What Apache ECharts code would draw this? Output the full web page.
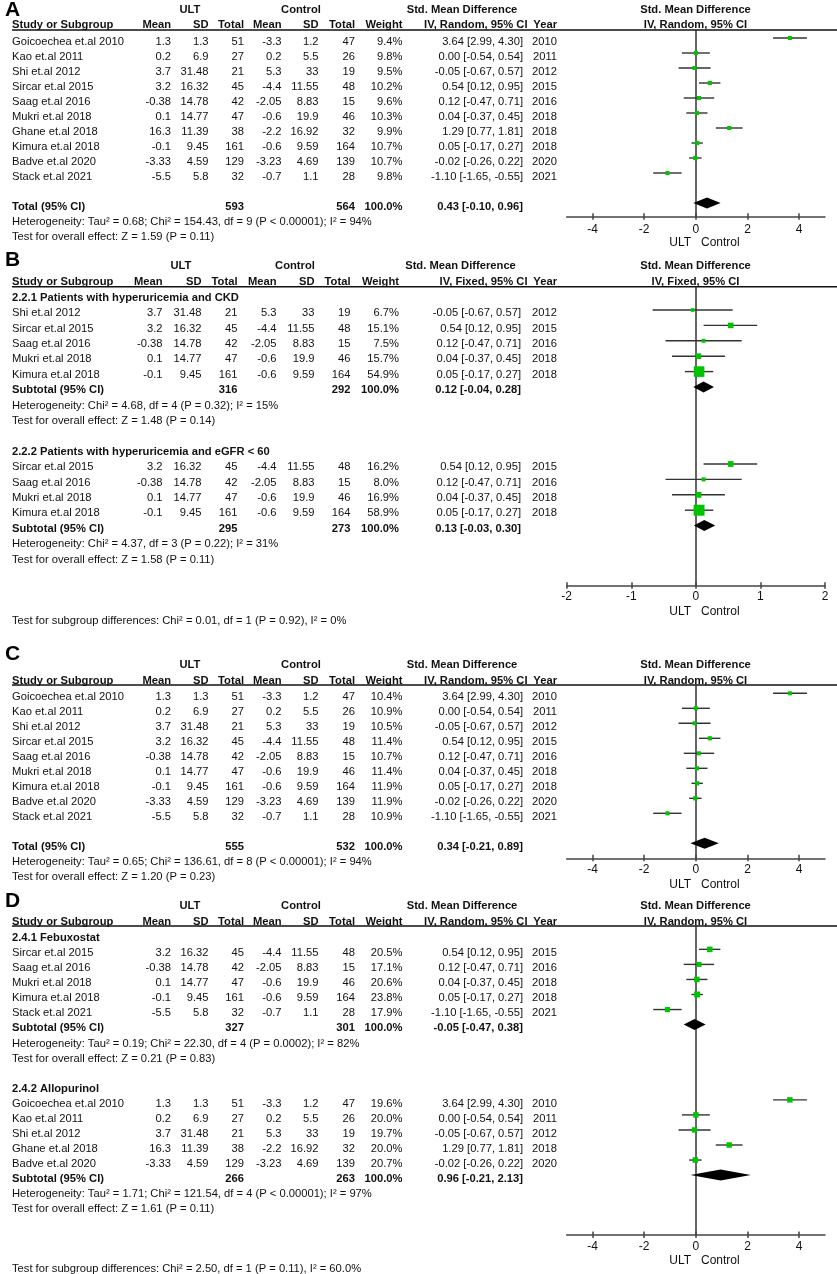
<!DOCTYPE html>
<html><head><meta charset="utf-8">
<script src="https://cdn.jsdelivr.net/npm/echarts@6/dist/echarts.min.js"></script>
<style>html,body{margin:0;padding:0;background:#fff}#c{width:837px;height:1274px}</style>
</head><body><div id="c"></div><script>
// ---------------- DATA ----------------
const studyNames = ["Goicoechea et.al 2010","Kao et.al 2011","Shi et.al 2012","Sircar et.al 2015","Saag et.al 2016","Mukri et.al 2018","Ghane et.al 2018","Kimura et.al 2018","Badve et.al 2020","Stack et.al 2021"];
const ultMean  = [1.3, 0.2, 3.7, 3.2, -0.38, 0.1, 16.3, -0.1, -3.33, -5.5];
const ultSD    = [1.3, 6.9, 31.48, 16.32, 14.78, 14.77, 11.39, 9.45, 4.59, 5.8];
const ultTotal = [51, 27, 21, 45, 42, 47, 38, 161, 129, 32];
const ctlMean  = [-3.3, 0.2, 5.3, -4.4, -2.05, -0.6, -2.2, -0.6, -3.23, -0.7];
const ctlSD    = [1.2, 5.5, 33, 11.55, 8.83, 19.9, 16.92, 9.59, 4.69, 1.1];
const ctlTotal = [47, 26, 19, 48, 15, 46, 32, 164, 139, 28];
const smd      = [3.64, 0.00, -0.05, 0.54, 0.12, 0.04, 1.29, 0.05, -0.02, -1.10];
const ciLow    = [2.99, -0.54, -0.67, 0.12, -0.47, -0.37, 0.77, -0.17, -0.26, -1.65];
const ciHigh   = [4.30, 0.54, 0.57, 0.95, 0.71, 0.45, 1.81, 0.27, 0.22, -0.55];
const studyYear = [2010, 2011, 2012, 2015, 2016, 2018, 2018, 2018, 2020, 2021];

const A_ticks = [-4, -2, 0, 2, 4];
const B_ticks = [-2, -1, 0, 1, 2];
const C_ticks = [-4, -2, 0, 2, 4];
const D_ticks = [-4, -2, 0, 2, 4];

// pooled: [ULT total, Control total, weight, SMD, low, high]
const A_studies = [0,1,2,3,4,5,6,7,8,9];
const A_weights = [9.4, 9.8, 9.5, 10.2, 9.6, 10.3, 9.9, 10.7, 10.7, 9.8];
const A_pooled  = [593, 564, 100.0, 0.43, -0.10, 0.96];
const A_het  = "Heterogeneity: Tau\u00b2 = 0.68; Chi\u00b2 = 154.43, df = 9 (P < 0.00001); I\u00b2 = 94%";
const A_test = "Test for overall effect: Z = 1.59 (P = 0.11)";

const B1_heading = "2.2.1 Patients with hyperuricemia and CKD";
const B1_studies = [2,3,4,5,7];
const B1_weights = [6.7, 15.1, 7.5, 15.7, 54.9];
const B1_pooled  = [316, 292, 100.0, 0.12, -0.04, 0.28];
const B1_het  = "Heterogeneity: Chi\u00b2 = 4.68, df = 4 (P = 0.32); I\u00b2 = 15%";
const B1_test = "Test for overall effect: Z = 1.48 (P = 0.14)";
const B2_heading = "2.2.2 Patients with hyperuricemia and eGFR < 60";
const B2_studies = [3,4,5,7];
const B2_weights = [16.2, 8.0, 16.9, 58.9];
const B2_pooled  = [295, 273, 100.0, 0.13, -0.03, 0.30];
const B2_het  = "Heterogeneity: Chi\u00b2 = 4.37, df = 3 (P = 0.22); I\u00b2 = 31%";
const B2_test = "Test for overall effect: Z = 1.58 (P = 0.11)";
const B_subTest = "Test for subgroup differences: Chi\u00b2 = 0.01, df = 1 (P = 0.92), I\u00b2 = 0%";

const C_studies = [0,1,2,3,4,5,7,8,9];
const C_weights = [10.4, 10.9, 10.5, 11.4, 10.7, 11.4, 11.9, 11.9, 10.9];
const C_pooled  = [555, 532, 100.0, 0.34, -0.21, 0.89];
const C_het  = "Heterogeneity: Tau\u00b2 = 0.65; Chi\u00b2 = 136.61, df = 8 (P < 0.00001); I\u00b2 = 94%";
const C_test = "Test for overall effect: Z = 1.20 (P = 0.23)";

const D1_heading = "2.4.1 Febuxostat";
const D1_studies = [3,4,5,7,9];
const D1_weights = [20.5, 17.1, 20.6, 23.8, 17.9];
const D1_pooled  = [327, 301, 100.0, -0.05, -0.47, 0.38];
const D1_het  = "Heterogeneity: Tau\u00b2 = 0.19; Chi\u00b2 = 22.30, df = 4 (P = 0.0002); I\u00b2 = 82%";
const D1_test = "Test for overall effect: Z = 0.21 (P = 0.83)";
const D2_heading = "2.4.2 Allopurinol";
const D2_studies = [0,1,2,6,8];
const D2_weights = [19.6, 20.0, 19.7, 20.0, 20.7];
const D2_pooled  = [266, 263, 100.0, 0.96, -0.21, 2.13];
const D2_het  = "Heterogeneity: Tau\u00b2 = 1.71; Chi\u00b2 = 121.54, df = 4 (P < 0.00001); I\u00b2 = 97%";
const D2_test = "Test for overall effect: Z = 1.61 (P = 0.11)";
const D_subTest = "Test for subgroup differences: Chi\u00b2 = 2.50, df = 1 (P = 0.11), I\u00b2 = 60.0%";

// ---------------- LAYOUT / STYLE ----------------
const FAM = '"Liberation Sans", Arial, sans-serif';
const F = (b, s) => (b ? 'bold ' : '') + (s || 11.2) + 'px ' + FAM;
const TXT = '#111', GREEN = '#00c400', LINE = '#333';
const PLOT_L = 566.7, PLOT_R = 825, PLOT_C = 695.5;

const colsACD = {name:12, um:171, usd:208.5, ut:244, cm:281.5, csd:318.5, ct:355, w:402.5, ci:523, yr:557, ultC:190, ctlC:301, smdC:462, ciHead:527.5};
const colsB   = {name:12, um:162.5, usd:201.5, ut:237.5, cm:276.5, csd:314.5, ct:350.5, w:399, ci:521, yr:557, ultC:181, ctlC:295, smdC:460.5, ciHead:527.5};

const panels = [
  {letter:'A', letterY:10, head1Y:10, head2Y:25, lineY:30, axisY:216.7, row0:38, step:15, dy:3.6,
   xmin:-5, xmax:5, ticks:A_ticks, k:1.3, cols:colsACD, method:'IV, Random, 95% CI', lblMargin:7,
   groups:[{heading:null, firstRow:0, studies:A_studies, weights:A_weights, pooled:A_pooled, pooledLabel:'Total (95% CI)', pooledRow:11, het:A_het, test:A_test}]},
  {letter:'B', letterY:260, head1Y:266, head2Y:281.7, lineY:286.7, axisY:585.7, row0:294.6, step:15.4, dy:3.2,
   xmin:-2, xmax:2, ticks:B_ticks, k:1.43, cols:colsB, method:'IV, Fixed, 95% CI', lblMargin:5,
   groups:[{heading:B1_heading, headingRow:0, firstRow:1, studies:B1_studies, weights:B1_weights, pooled:B1_pooled, pooledLabel:'Subtotal (95% CI)', pooledRow:6, het:B1_het, test:B1_test},
           {heading:B2_heading, headingRow:10, firstRow:11, studies:B2_studies, weights:B2_weights, pooled:B2_pooled, pooledLabel:'Subtotal (95% CI)', pooledRow:15, het:B2_het, test:B2_test}],
   subTest:B_subTest, subTestRow:21},
  {letter:'C', letterY:654, head1Y:665, head2Y:680.7, lineY:685, axisY:858.3, row0:693.3, step:15, dy:3.4,
   xmin:-5, xmax:5, ticks:C_ticks, k:1.24, cols:colsACD, method:'IV, Random, 95% CI', lblMargin:5.5,
   groups:[{heading:null, firstRow:0, studies:C_studies, weights:C_weights, pooled:C_pooled, pooledLabel:'Total (95% CI)', pooledRow:10, het:C_het, test:C_test}]},
  {letter:'D', letterY:901, head1Y:906, head2Y:921.7, lineY:926, axisY:1235, row0:934.3, step:15.05, dy:3.8,
   xmin:-5, xmax:5, ticks:D_ticks, k:1.22, cols:colsACD, method:'IV, Random, 95% CI', lblMargin:5.5,
   groups:[{heading:D1_heading, headingRow:0, firstRow:1, studies:D1_studies, weights:D1_weights, pooled:D1_pooled, pooledLabel:'Subtotal (95% CI)', pooledRow:6, het:D1_het, test:D1_test},
           {heading:D2_heading, headingRow:10, firstRow:11, studies:D2_studies, weights:D2_weights, pooled:D2_pooled, pooledLabel:'Subtotal (95% CI)', pooledRow:16, het:D2_het, test:D2_test}],
   subTest:D_subTest, subTestRow:22}
];

const fmtCI = (e, l, h) => e.toFixed(2) + ' [' + l.toFixed(2) + ', ' + h.toFixed(2) + ']';

function tx(x, y, text, align, font, fill) {
  return {type:'text', silent:true, style:{x:x, y:y, text:String(text), font:font, fill:fill || TXT,
    align:align, textAlign:align, verticalAlign:'middle', textVerticalAlign:'middle'}};
}

const grids = [], xAxes = [], yAxes = [], series = [], graphics = [];

panels.forEach((p, i) => {
  const c = p.cols;
  grids.push({left:PLOT_L, right:837 - PLOT_R, top:p.lineY, height:p.axisY - p.lineY, containLabel:false, outerBoundsMode:'none'});
  xAxes.push({type:'value', gridIndex:i, min:p.xmin, max:p.xmax, position:'bottom',
    axisLine:{show:true, onZero:false, lineStyle:{color:'#444', width:1.5}},
    axisTick:{show:true, inside:true, length:3.5, customValues:p.ticks, lineStyle:{color:'#444', width:1.5}},
    axisLabel:{show:true, customValues:p.ticks, margin:p.lblMargin, color:TXT, fontSize:12, fontFamily:FAM},
    splitLine:{show:false}});
  xAxes.push({type:'value', gridIndex:i, min:p.xmin, max:p.xmax, position:'bottom',
    axisLine:{show:false, onZero:false},
    axisTick:{show:true, inside:false, length:3, customValues:p.ticks, lineStyle:{color:'#444', width:1.5}},
    axisLabel:{show:false}, splitLine:{show:false}});
  yAxes.push({type:'value', gridIndex:i, inverse:true,
    min:(p.lineY - p.row0) / p.step, max:(p.axisY - p.row0) / p.step,
    axisLine:{show:true, onZero:true, lineStyle:{color:LINE, width:1.5}},
    axisTick:{show:false}, axisLabel:{show:false}, splitLine:{show:false}});

  // build rows
  const forest = [], diamonds = [], texts = [];
  const add = (row, x, text, align, bold) => texts.push({row:row, x:x, text:String(text), align:align, bold:!!bold});
  p.groups.forEach(g => {
    if (g.heading) add(g.headingRow, c.name, g.heading, 'left', true);
    g.studies.forEach((si, j) => {
      const r = g.firstRow + j;
      forest.push([smd[si], r, ciLow[si], ciHigh[si], g.weights[j]]);
      add(r, c.name, studyNames[si], 'left');
      add(r, c.um, ultMean[si], 'right');
      add(r, c.usd, ultSD[si], 'right');
      add(r, c.ut, ultTotal[si], 'right');
      add(r, c.cm, ctlMean[si], 'right');
      add(r, c.csd, ctlSD[si], 'right');
      add(r, c.ct, ctlTotal[si], 'right');
      add(r, c.w, g.weights[j].toFixed(1) + '%', 'right');
      add(r, c.ci, fmtCI(smd[si], ciLow[si], ciHigh[si]), 'right');
      add(r, c.yr, studyYear[si], 'right');
    });
    const pr = g.pooledRow, P = g.pooled;
    diamonds.push([P[3], pr, P[4], P[5]]);
    add(pr, c.name, g.pooledLabel, 'left', true);
    add(pr, c.ut, P[0], 'right', true);
    add(pr, c.ct, P[1], 'right', true);
    add(pr, c.w, P[2].toFixed(1) + '%', 'right', true);
    add(pr, c.ci, fmtCI(P[3], P[4], P[5]), 'right', true);
    add(pr + 1, c.name, g.het, 'left');
    add(pr + 2, c.name, g.test, 'left');
  });
  if (p.subTest) add(p.subTestRow, c.name, p.subTest, 'left');

  series.push({type:'custom', xAxisIndex:2*i, yAxisIndex:i, clip:false, silent:true, z:5,
    data:forest,
    renderItem:(params, api) => {
      const r = api.value(1);
      const m = api.coord([api.value(0), r]);
      const a = api.coord([api.value(2), r]);
      const b = api.coord([api.value(3), r]);
      const s = p.k * Math.sqrt(api.value(4));
      return {type:'group', children:[
        {type:'line', shape:{x1:a[0], y1:a[1], x2:b[0], y2:b[1]}, style:{stroke:LINE, lineWidth:1.4}},
        {type:'rect', shape:{x:m[0] - s/2, y:m[1] - s/2, width:s, height:s}, style:{fill:GREEN}}
      ]};
    }});
  series.push({type:'custom', xAxisIndex:2*i, yAxisIndex:i, clip:false, silent:true, z:6,
    data:diamonds,
    renderItem:(params, api) => {
      const r = api.value(1);
      const m = api.coord([api.value(0), r]);
      const a = api.coord([api.value(2), r]);
      const b = api.coord([api.value(3), r]);
      const h = 5.5;
      return {type:'polygon', shape:{points:[[a[0], m[1]], [m[0], m[1] - h], [b[0], m[1]], [m[0], m[1] + h]]},
        style:{fill:'#000'}};
    }});
  series.push({type:'custom', xAxisIndex:2*i, yAxisIndex:i, clip:false, silent:true, z:7,
    data:texts.map(t => [0, t.row]),
    renderItem:(params, api) => {
      const t = texts[params.dataIndex];
      const y = api.coord([0, api.value(1)])[1] + p.dy;
      return tx(t.x, y, t.text, t.align, F(t.bold));
    }});

  // headers
  graphics.push(tx(5, p.letterY, p.letter, 'left', F(true, 21), '#000'));
  graphics.push(tx(c.ultC, p.head1Y, 'ULT', 'center', F(true)));
  graphics.push(tx(c.ctlC, p.head1Y, 'Control', 'center', F(true)));
  graphics.push(tx(c.smdC, p.head1Y, 'Std. Mean Difference', 'center', F(true)));
  graphics.push(tx(PLOT_C, p.head1Y, 'Std. Mean Difference', 'center', F(true)));
  graphics.push(tx(c.name, p.head2Y, 'Study or Subgroup', 'left', F(true)));
  graphics.push(tx(c.um, p.head2Y, 'Mean', 'right', F(true)));
  graphics.push(tx(c.usd, p.head2Y, 'SD', 'right', F(true)));
  graphics.push(tx(c.ut, p.head2Y, 'Total', 'right', F(true)));
  graphics.push(tx(c.cm, p.head2Y, 'Mean', 'right', F(true)));
  graphics.push(tx(c.csd, p.head2Y, 'SD', 'right', F(true)));
  graphics.push(tx(c.ct, p.head2Y, 'Total', 'right', F(true)));
  graphics.push(tx(c.w, p.head2Y, 'Weight', 'right', F(true)));
  graphics.push(tx(c.ciHead, p.head2Y, p.method, 'right', F(true)));
  graphics.push(tx(c.yr, p.head2Y, 'Year', 'right', F(true)));
  graphics.push(tx(PLOT_C, p.head2Y, p.method, 'center', F(true)));
  graphics.push({type:'line', silent:true, shape:{x1:12, y1:p.lineY, x2:837, y2:p.lineY}, style:{stroke:'#111', lineWidth:1.4}});
  graphics.push(tx(691, p.axisY + 26, 'ULT', 'right', F(false, 12)));
  graphics.push(tx(701, p.axisY + 26, 'Control', 'left', F(false, 12)));
});

const chart = echarts.init(document.getElementById('c'), null, {renderer:'canvas', width:837, height:1274});
chart.setOption({
  animation:false,
  backgroundColor:'#fff',
  grid:grids, xAxis:xAxes, yAxis:yAxes, series:series,
  graphic:{elements:graphics}
});
</script></body></html>
